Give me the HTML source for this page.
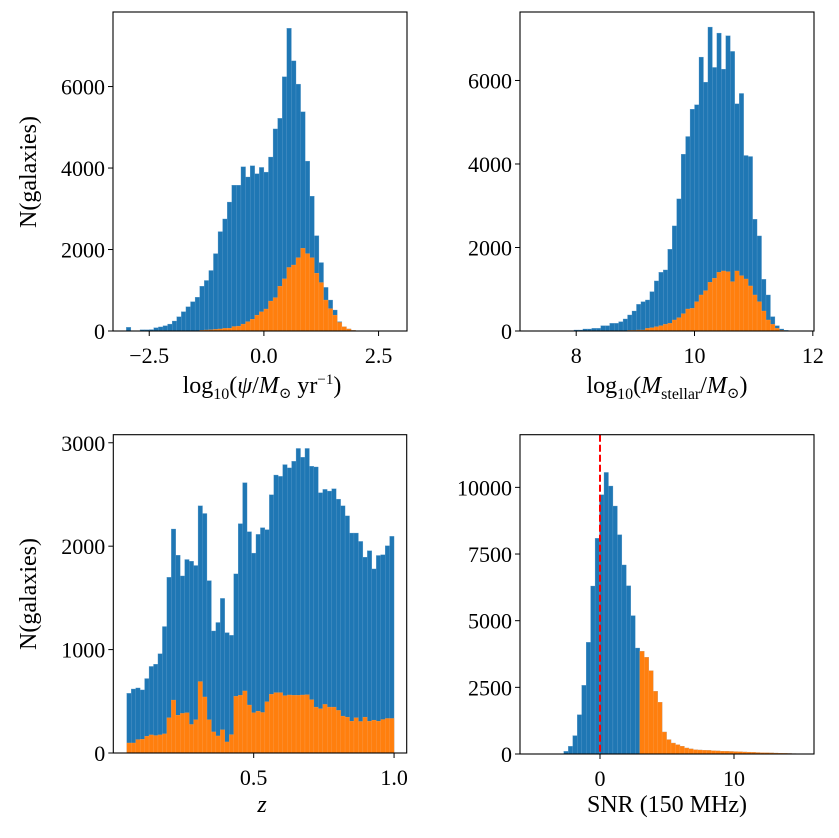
<!DOCTYPE html>
<html><head><meta charset="utf-8">
<style>
html,body{margin:0;padding:0;background:#fff;}
svg{display:block;}
text{font-family:"Liberation Serif","DejaVu Serif",serif;fill:#000;}
</style></head>
<body>
<svg id="fig" width="839" height="838" viewBox="0 0 839 838" xmlns="http://www.w3.org/2000/svg"></svg>
<script>
// ---- Panel 1: star formation rate ----
const sfrBinStart = -3.0, sfrBinWidth = 0.1;
const sfrAll = [90,0,0,30,30,35,80,100,130,170,245,350,475,595,720,830,1100,1240,1485,1900,2440,2750,3165,3580,3580,4030,3780,4055,3860,4015,3900,4270,4960,5220,6240,7430,6630,6060,5380,4170,3310,2340,1680,1070,760,515,230,105,50,15,5,0,0,0,0,0,0,0,0];
const sfrSel = [0,0,0,0,0,0,0,0,0,0,0,0,0,0,0,0,20,25,30,40,50,65,70,110,120,170,230,290,390,470,540,735,820,1100,1280,1560,1620,1800,2030,1900,1800,1420,1190,760,550,390,210,105,50,15,5,0,0,0,0,0,0,0,0];
const sfrXTicks = [-2.5, 0.0, 2.5];
const sfrXTickLabels = ["\u22122.5","0.0","2.5"];
const sfrYTicks = [0,2000,4000,6000];

// ---- Panel 2: stellar mass ----
const massBinStart = 7.962, massBinWidth = 0.0755;
const massAll = [24,24,48,48,64,64,128,128,184,184,224,288,384,479,639,703,743,943,1199,1406,1462,1958,2517,3164,4235,4658,5313,5417,6560,5960,7279,6312,7135,6272,7071,6696,5441,5689,4203,4179,2677,2277,1238,863,344,128,48,16];
const massSel = [0,0,0,0,0,0,0,0,0,0,8,8,16,16,24,24,64,80,104,128,160,184,264,320,416,527,543,703,863,967,1167,1263,1406,1438,1422,1183,1438,1326,1246,1079,863,703,479,264,160,64,16,0];
const massXTicks = [8,10,12];
const massXTickLabels = ["8","10","12"];
const massYTicks = [0,2000,4000,6000];

// ---- Panel 3: redshift ----
const zBinStart = 0.048, zBinWidth = 0.015867;
const zAllTop = [797,784,781,787,753,717,710,679,598,451,307,385,447,398,403,416,238,261,461,611,586,514,616,624,441,291,169,315,379,323,303,309,205,146,150,115,125,105,67,93,67,120,122,199,189,194,187,218,238,268,319,319,344,391,372,426,386,384,357,329];
const zSelTop = [945,945,935,934,925,921,923,921,918,870,817,862,857,855,890,876,762,808,876,912,924,906,942,920,806,803,790,832,855,850,854,822,800,795,795,804,802,803,803,802,801,816,838,843,830,838,838,848,865,868,880,870,881,868,880,877,880,875,872,872];
const zAll = zAllTop.map(v => Math.round((975 - v) * 3.243));
const zSel = zSelTop.map(v => Math.round((975 - v) * 3.243));
const zXTicks = [0.5, 1.0];
const zXTickLabels = ["0.5","1.0"];
const zYTicks = [0,1000,2000,3000];

// ---- Panel 4: SNR ----
const snrBinStart = -2.70, snrBinWidth = 0.3333;
const snrAll = [100,290,690,1475,2575,4190,6300,8090,9725,10560,10050,9300,8225,7090,6310,5190,3975,3850,3625,3125,2350,1940,825,540,410,350,290,225,190,160,150,140,135,125,115,105,100,95,90,85,75,70,62,55,50,45,40,35,30,25,20,15,12,8];
const snrSel = [0,0,0,0,0,0,0,0,0,0,0,0,0,0,0,0,0,3850,3625,3125,2350,1940,825,540,410,350,290,225,190,160,150,140,135,125,115,105,100,95,90,85,75,70,62,55,50,45,40,35,30,25,20,15,12,8];
const snrXTicks = [0,10];
const snrXTickLabels = ["0","10"];
const snrYTicks = [0,2500,5000,7500,10000];
const snrCut = [0];

const NS = "http://www.w3.org/2000/svg";
const fig = document.getElementById('fig');
function mk(tag, attrs, parent){
  const e = document.createElementNS(NS, tag);
  for (const k in attrs) e.setAttribute(k, attrs[k]);
  (parent||fig).appendChild(e);
  return e;
}

function panel(cfg){
  const g = mk('g', {});
  
  
  const sx = v => cfg.px0 + (v - cfg.x0) / (cfg.x1 - cfg.x0) * (cfg.px1 - cfg.px0);
  const sy = v => cfg.py1 - (v - 0) / cfg.ymax * (cfg.py1 - cfg.py0);
  function bars(arr, color, nm){
    arr.forEach((v, i) => {
      if (v <= 0) return;
      const a = sx(cfg.bs + i * cfg.bw), b = sx(cfg.bs + (i + 1) * cfg.bw);
      const r = mk('rect', {x: a, y: sy(v), width: b - a, height: sy(0) - sy(v), fill: color, stroke: color === '#1f77b4' ? '#5d9bcb' : '#ff9f4f', 'stroke-width': 0.3}, g);
      
      
    });
  }
  bars(cfg.all, '#1f77b4', 'all-galaxies');
  bars(cfg.sel, '#ff7f0e', 'selected-galaxies');
  if (cfg.vline) {
    cfg.vline.forEach(xv => {
      const l = mk('line', {x1: sx(xv), x2: sx(xv), y1: cfg.py0, y2: cfg.py1, stroke: '#ff0000', 'stroke-width': 2, 'stroke-dasharray': '7,3'}, g);
      
      
    });
  }
  const fr = mk('rect', {x: cfg.px0, y: cfg.py0, width: cfg.px1 - cfg.px0, height: cfg.py1 - cfg.py0, fill: 'none', stroke: '#000', 'stroke-width': 1.1}, g);
  
  
  cfg.xt.forEach((t, i) => {
    const x = sx(t);
    mk('line', {x1: x, x2: x, y1: cfg.py1, y2: cfg.py1 + 5, stroke: '#000', 'stroke-width': 1}, g);
    const tx = mk('text', {x: x, y: cfg.py1 + 32, 'font-size': 22, 'text-anchor': 'middle'}, g);
    tx.textContent = cfg.xtl[i];
    
    
  });
  cfg.yt.forEach(t => {
    const y = sy(t);
    mk('line', {x1: cfg.px0 - 5, x2: cfg.px0, y1: y, y2: y, stroke: '#000', 'stroke-width': 1}, g);
    const tx = mk('text', {x: cfg.px0 - 8, y: y + 8, 'font-size': 22, 'text-anchor': 'end'}, g);
    tx.textContent = String(t);
    
    
  });
  return g;
}

panel({name:'sfr-panel', px0:113, px1:407, py0:12, py1:331, x0:-3.29, x1:3.12, ymax:7830, bs:sfrBinStart, bw:sfrBinWidth, all:sfrAll, sel:sfrSel, xt:sfrXTicks, xtl:sfrXTickLabels, yt:sfrYTicks});
panel({name:'mass-panel', px0:520, px1:814, py0:12, py1:331, x0:7.05, x1:12.02, ymax:7640, bs:massBinStart, bw:massBinWidth, all:massAll, sel:massSel, xt:massXTicks, xtl:massXTickLabels, yt:massYTicks});
panel({name:'redshift-panel', px0:113.3, px1:406.7, py0:434.7, py1:753, x0:0.0, x1:1.045, ymax:3078, bs:zBinStart, bw:zBinWidth, all:zAll, sel:zSel, xt:zXTicks, xtl:zXTickLabels, yt:zYTicks});
panel({name:'snr-panel', px0:520, px1:814, py0:434.7, py1:754, x0:-5.97, x1:15.97, ymax:11975, bs:snrBinStart, bw:snrBinWidth, all:snrAll, sel:snrSel, xt:snrXTicks, xtl:snrXTickLabels, yt:snrYTicks, vline:snrCut});
</script>
<svg width="839" height="838" style="position:absolute;left:0;top:0;pointer-events:none" xmlns="http://www.w3.org/2000/svg">
  <text x="262" y="393" font-size="24" text-anchor="middle">log<tspan font-size="16" dy="6">10</tspan><tspan dy="-6">(</tspan><tspan font-style="italic">ψ</tspan>/<tspan font-style="italic">M</tspan><tspan font-size="15" dy="5">⊙</tspan><tspan dy="-5"> yr</tspan><tspan font-size="15" dy="-9">−1</tspan><tspan dy="9">)</tspan></text>
  <text x="667" y="393" font-size="24" text-anchor="middle">log<tspan font-size="16" dy="6">10</tspan><tspan dy="-6">(</tspan><tspan font-style="italic">M</tspan><tspan font-size="16" dy="6">stellar</tspan><tspan dy="-6">/</tspan><tspan font-style="italic">M</tspan><tspan font-size="15" dy="5">⊙</tspan><tspan dy="-5">)</tspan></text>
  <text x="262" y="812" font-size="24" font-style="italic" text-anchor="middle">z</text>
  <text x="667" y="812" font-size="24" text-anchor="middle">SNR (150 MHz)</text>
  <text transform="translate(36,172) rotate(-90)" font-size="24" text-anchor="middle">N(galaxies)</text>
  <text transform="translate(36,594) rotate(-90)" font-size="24" text-anchor="middle">N(galaxies)</text>
</svg>
</body></html>
